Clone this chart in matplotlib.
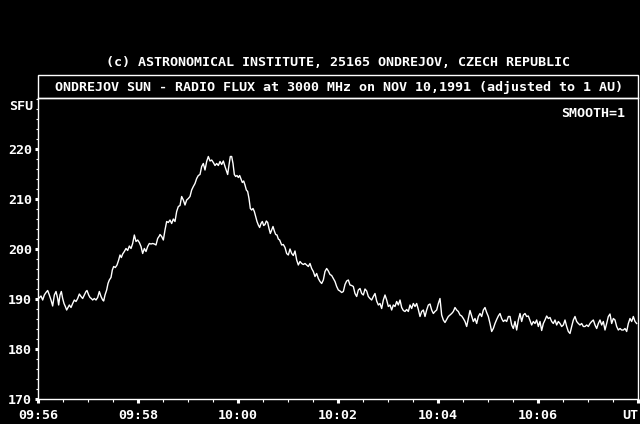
import matplotlib
matplotlib.use("Agg")
import matplotlib.pyplot as plt
from matplotlib.patches import Rectangle

# seconds after 09:56 UT and flux in SFU
secs = [
    0, 3.6, 5.6, 7.6, 9.6, 11.6, 13.6, 15.6, 17.6, 19.6, 21.6, 23.6, 24.8, 26.4, 28, 29.6,
    31.2, 32.8, 34.4, 36, 37.6, 39.6, 41.6, 43.6, 45.6, 47.6, 49.6, 51.6, 53.6, 55.6, 57.6,
    58.8, 60.8, 62.4, 64, 65.6, 67.6, 69.6, 71.6, 73.6, 75.6, 77.6, 78.8, 80.4, 82.4, 84,
    85.6, 87.6, 89.2, 90.8, 92.8, 94.8, 96.8, 98.4, 100, 101.6, 103.6, 105.6, 107.6, 109.6,
    111.6, 113.6, 115.6, 117.6, 119.6, 121.6, 123.6, 125.6, 127.6, 129.6, 131.6, 133.6,
    135.6, 137.6, 139.6, 141.6, 143.6, 145.6,
    146.4, 148.4, 150.4, 152.4, 154.4, 156.4, 158.4, 160.4, 162.4, 164.4, 166.4, 168.4,
    170.4, 172.4, 174.4, 176.4, 178.4, 180.4, 182.4, 184.4, 186.4, 188.4, 190.4, 192.4,
    194.4, 196.4, 198.4, 200.4, 202.4, 204.4, 206.4, 208.4, 210.4, 212.4, 214.4, 216.4,
    218.4, 220.4, 222.4, 224.4, 226.4, 227.6, 229.2, 230.8, 232.4, 234, 235.6, 237.2,
    238.8, 240.4, 242, 243.6, 245.2, 246.8, 248.4, 250, 251.6, 253.2, 254.8, 256.4, 258,
    259.6, 261.2, 262.8, 264.4, 266, 267.6, 269.2, 270.8, 272.4, 274, 275.6, 277.2, 278.8,
    280.4, 282, 283.6, 285.2, 286.8, 288.4, 290,
    292.4, 294.4, 296.4, 298.4, 300.4, 302.4, 304.4, 306.4, 308.4, 310.4, 312.4, 314.4,
    316.4, 318.4, 320.4, 322.4, 324.4, 326.4, 328.4, 330.4, 332.4, 334.4, 336.4, 338.4,
    340.4, 342.4, 344.4, 346.4, 348.4, 350.4, 352.4, 354.4, 356.4, 358.4, 360.4, 362.4,
    364.4, 366.4, 368.4, 370.4, 372.4, 374.4, 376.4, 378.4, 380.4, 382.4, 384.4, 386.4,
    388.4, 390.4, 392.4, 394.4, 396.4, 398.4, 400.4, 402.4, 404.4, 406.4, 408.4, 410.4,
    412.4, 414.4, 416.4, 418.4, 420.4, 422.4, 424.4, 426.4, 428.4, 430.4, 432.4, 434.4,
    436.4, 438.4, 440.4, 442.4, 444.4, 446.4, 448.4, 450.4, 452.4, 454.4, 456.4, 458.4,
    460.4, 462.4, 464.4, 466.4, 468.4, 470.4, 472.4, 474.4, 476.4, 478.4, 480.4, 482.4,
    484.4, 486.4, 488.4, 490.4, 492.4, 494.4, 496.4, 498.4, 500.4, 502.4, 504.4, 506.4,
    508.4, 510.4, 512.4, 514.4, 516.4, 518.4, 520.4, 522.4, 524.4, 526.4, 528.4, 530.4,
    532.4, 534.4, 536.4, 538.4, 540.4, 542.4, 544.4, 546.4, 548.4, 550.4, 552.4, 554.4,
    556.4, 558.4, 560.4, 562.4, 564.4, 566.4, 568.4, 570.4, 572.4, 574.4, 576.4, 578.4,
    580.4, 582.4, 584.4, 586.4, 588.4, 590.4, 592.4, 594.4, 596.4, 598.4, 600.4, 602.4,
    604.4, 606.4, 608.4, 610.4, 612.4, 614.4, 616.4, 618.4, 620.4, 622.4, 624.4, 626.4,
    628.4, 630.4, 632.4, 634.4, 636.4, 638.4, 640.4, 642.4, 644.4, 646.4, 648.4, 650.4,
    652.4, 654.4, 656.4, 658.4, 660.4, 662.4, 664.4, 666.4, 668.4, 670.4, 672.4, 674.4,
    676.4, 678.4, 680.4, 682.4, 684.4, 686.4, 688.4, 690.4, 692.4, 694.4, 696.4, 698.4,
    700.4, 702.4, 704.4, 706.4, 708.4, 710.4, 712.4, 714.4, 716.4, 718.4,
]
sfu = [
    190.0, 190.6, 189.8, 190.8, 191.3, 191.7, 190.8, 189.8, 188.6, 190.8, 191.5, 190.1, 188.8,
    190.8, 191.5, 190.1, 189.1, 188.5, 187.8, 188.3, 188.8, 188.3, 189.1, 189.8, 189.5, 190.1,
    191.0, 190.5, 190.1, 190.8, 191.5, 191.7, 190.8, 190.3, 190.1, 189.8, 190.1, 189.8, 190.3,
    191.5, 190.5, 189.8, 189.6, 190.8, 191.8, 193.1, 193.8, 194.3, 195.8, 196.5, 196.3, 196.8,
    197.8, 198.8, 198.3, 199.0, 199.5, 200.1, 199.7, 200.6, 200.1, 201.1, 202.8, 201.5, 201.8,
    201.3, 200.5, 199.1, 200.1, 199.5, 200.5, 201.1, 201.0, 201.1, 201.0, 200.8, 202.1, 202.6,
    202.9, 202.5, 201.8, 203.8, 205.5, 205.3, 205.8, 205.1, 206.0, 205.5, 207.5, 208.5,
    208.7, 210.5, 209.8, 208.8, 209.8, 210.1, 210.5, 211.8, 212.5, 213.1, 214.1, 214.7,
    214.9, 216.5, 217.1, 215.8, 217.5, 218.5, 217.6, 217.8, 217.3, 216.7, 217.1, 216.7,
    217.5, 216.9, 217.6, 216.5, 215.5, 214.9, 216.8, 218.5, 218.5, 217.1, 214.9, 214.5,
    214.7, 214.3, 214.7, 214.0, 213.3, 213.6, 212.8, 211.8, 211.5, 210.1, 208.1, 207.8, 208.1,
    207.5, 206.5, 205.5, 204.8, 204.3, 205.1, 205.5, 204.7, 204.9, 205.6, 205.3, 204.1, 203.1,
    203.8, 204.5, 203.6, 202.9, 202.8, 202.0, 201.8,
    200.8, 200.9, 200.3, 199.1, 198.8, 200.0, 199.1, 198.7, 199.6, 197.8, 196.8, 197.5,
    197.1, 196.9, 197.1, 196.8, 196.5, 197.1, 196.1, 195.5, 194.5, 195.1, 194.1, 193.5,
    193.1, 193.8, 195.5, 196.1, 195.6, 194.9, 194.7, 194.1, 193.5, 192.5, 191.8, 191.6,
    191.3, 191.5, 192.9, 193.6, 193.8, 192.8, 192.7, 192.5, 191.1, 190.5, 191.8, 192.1,
    191.1, 190.8, 192.0, 191.6, 190.5, 190.1, 189.8, 190.5, 191.1, 189.6, 188.8, 189.1,
    188.1, 189.8, 190.8, 189.8, 188.5, 188.8, 187.8, 188.8, 188.5, 189.5, 188.8, 189.8,
    188.3, 187.7, 187.5, 187.9, 187.5, 188.8, 188.1, 189.1, 188.5, 189.1, 187.9, 186.5,
    187.5, 187.8, 186.5, 187.8, 188.8, 189.0, 187.8, 187.1, 187.5, 187.8, 189.1, 190.1,
    186.8, 185.8, 185.3, 185.9, 186.5, 186.8, 187.1, 187.5, 188.3, 187.8, 187.5, 186.8,
    186.6, 186.1, 185.5, 184.5, 186.1, 187.7, 186.6, 185.5, 186.1, 185.1, 186.5, 187.1,
    186.5, 187.8, 188.3, 187.3, 186.5, 185.1, 183.5, 184.1, 185.1, 185.9, 186.6, 187.1,
    186.1, 185.5, 185.8, 185.5, 186.5, 186.5, 184.8, 184.1, 185.5, 183.8, 185.8, 187.1,
    185.5, 186.8, 187.1, 186.5, 186.6, 185.7, 184.8, 185.5, 185.1, 185.8, 184.5, 185.5,
    183.7, 185.1, 185.8, 186.6, 186.1, 186.3, 185.5, 185.1, 185.8, 184.8, 185.5, 185.1,
    184.5, 184.8, 185.8, 184.5, 183.5, 183.1, 184.5, 185.8, 186.5, 185.5, 185.1, 184.8,
    185.1, 184.5, 184.5, 184.8, 184.5, 185.1, 185.5, 185.8, 184.8, 184.1, 185.1, 185.8,
    184.8, 185.5, 183.8, 185.1, 186.5, 187.0, 185.1, 186.1, 185.8, 184.5, 183.8, 184.1,
    183.8, 183.8, 184.1, 183.5, 185.1, 186.1, 185.5, 186.5, 185.5, 185.1,
]

time_labels = ["09:56", "09:58", "10:00", "10:02", "10:04", "10:06", "UT"]
flux_ticks = [170, 180, 190, 200, 210, 220]

W, H = 640, 424
mono = "DejaVu Sans Mono"
fs = 9.6

fig = plt.figure(figsize=(W / 100, H / 100), dpi=100, facecolor="black")
ax = fig.add_axes([38 / W, (H - 399) / H, 600 / W, 301 / H], facecolor="black")

minutes = [s / 60.0 for s in secs]
ax.plot(minutes, sfu, color="white", lw=1.0)

ax.set_xlim(0, 12)
ax.set_ylim(170, 230.2)

ax.set_xticks(range(0, 13, 2))
ax.set_xticklabels(time_labels)
ax.set_xticks([m / 2 for m in range(0, 25)], minor=True)
ax.set_yticks(flux_ticks)
ax.set_yticklabels([str(v) for v in flux_ticks])
ax.set_yticks(range(170, 231, 2), minor=True)

for lab in ax.get_xticklabels():
    lab.set_fontfamily(mono)
    lab.set_fontweight("bold")
for lab in ax.get_yticklabels():
    lab.set_fontfamily(mono)
    lab.set_fontweight("bold")
ax.get_xticklabels()[-1].set_horizontalalignment("right")

ax.tick_params(axis="x", which="major", direction="out", length=3, width=2.2,
               colors="white", labelsize=fs, pad=4)
ax.tick_params(axis="x", which="minor", direction="out", length=2.5, width=0.8, colors="white")
ax.tick_params(axis="y", which="major", direction="out", length=2.2, width=2.2,
               colors="white", labelsize=fs, pad=2)
ax.tick_params(axis="y", which="minor", direction="out", length=1.5, width=0.8, colors="white")

for sp in ax.spines.values():
    sp.set_color("white")
    sp.set_linewidth(1.0)

# title box sits on top of the plot frame
fig.patches.append(Rectangle((38 / W, (H - 98) / H), 600 / W, 23 / H, transform=fig.transFigure,
                             fill=False, edgecolor="white", lw=1.0))

txt = dict(color="white", family=mono, fontsize=fs, fontweight="bold")
fig.text(338 / W, 1 - 63 / H, "(c) ASTRONOMICAL INSTITUTE, 25165 ONDREJOV, CZECH REPUBLIC",
         ha="center", va="center", **txt)
fig.text(339 / W, 1 - 87 / H,
         "ONDREJOV SUN - RADIO FLUX at 3000 MHz on NOV 10,1991 (adjusted to 1 AU)",
         ha="center", va="center", **txt)
fig.text(625 / W, 1 - 113 / H, "SMOOTH=1", ha="right", va="center", **txt)
fig.text(9 / W, 1 - 107 / H, "SFU", ha="left", va="center", **txt)

fig.savefig("out.png", dpi=100, facecolor="black")
